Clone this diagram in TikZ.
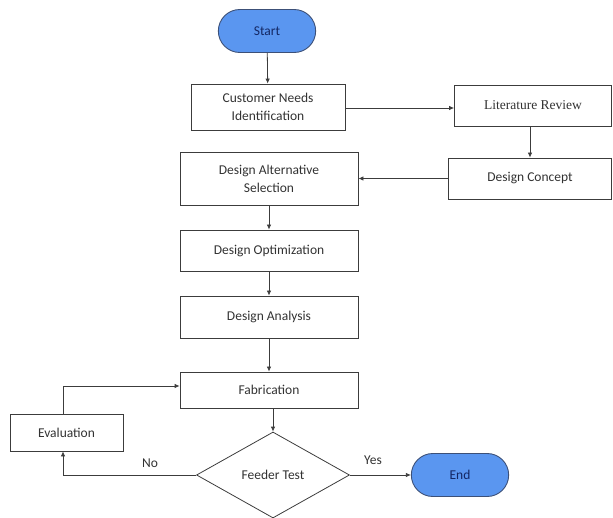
\documentclass[tikz,border=0pt]{standalone}
\usepackage{fontspec}
\setmainfont{Carlito}
\newfontfamily\serifz{Liberation Serif}
\usetikzlibrary{shapes.geometric,shapes.misc,arrows.meta}
\definecolor{termfill}{RGB}{90,150,240}
\definecolor{termdraw}{RGB}{60,80,120}
\definecolor{termtext}{RGB}{20,40,100}
\definecolor{linec}{RGB}{60,60,60}
\definecolor{textc}{RGB}{50,50,50}
\tikzset{
  box/.style={draw=linec, line width=0.8pt, rectangle, align=center, text=textc, font=\fontsize{13.5}{18}\selectfont, inner sep=2pt},
  term/.style={draw=termdraw, fill=termfill, line width=0.9pt, rounded rectangle, text=termtext, font=\fontsize{13.5}{16}\selectfont, minimum width=104pt, minimum height=43pt},
  dec/.style={draw=linec, line width=0.8pt, diamond, aspect=1.78, text=textc, font=\fontsize{13.5}{16}\selectfont, inner sep=0pt, minimum width=153pt, minimum height=86pt},
  conn/.style={draw=linec, line width=0.8pt, -{Latex[length=5pt,width=4.5pt]}},
  lbl/.style={text=textc, font=\fontsize{13.5}{16}\selectfont}
}
\begin{document}
\begin{tikzpicture}[x=1pt,y=-1pt]
\useasboundingbox (0,0) rectangle (613,518);
\node[term] (start) at (267,31) {Start};
\node[box, minimum width=154pt, minimum height=46pt] (cust) at (268,107) {Customer Needs\\Identification};
\node[box, minimum width=157pt, minimum height=41pt, font=\serifz\fontsize{13.5}{16}\selectfont] (lit) at (533,105.5) {Literature Review};
\node[box, minimum width=163pt, minimum height=41pt] (concept) at (530,178.5) {Design Concept};
\node[box, minimum width=178pt, minimum height=53pt] (alt) at (269,178.5) {Design Alternative\\Selection};
\node[box, minimum width=178pt, minimum height=41pt] (opt) at (269,250.5) {Design Optimization};
\node[box, minimum width=178pt, minimum height=42pt] (ana) at (269,317) {Design Analysis};
\node[box, minimum width=178pt, minimum height=36pt] (fab) at (269,390) {Fabrication};
\node[dec] (test) at (273,475) {Feeder Test};
\node[box, minimum width=113pt, minimum height=37pt] (eval) at (66.5,432.5) {Evaluation};
\node[term] (end) at (460,475) {End};
\coordinate (c1) at (63,386);
\coordinate (c2) at (63,475);
\draw[conn] (start) -- (cust);
\draw[conn] (cust.east |- 0,108) -- (lit.west |- 0,108);
\draw[conn] (lit.south -| 530,0) -- (concept.north -| 530,0);
\draw[conn] (concept) -- (alt);
\draw[conn] (alt) -- (opt);
\draw[conn] (opt) -- (ana);
\draw[conn] (ana) -- (fab);
\draw[conn] (fab.south -| test) -- (test.north);
\draw[conn] (test.west) -- (c2) -- (eval.south -| c2);
\draw[conn] (eval.north -| c1) -- (c1) -- (fab.west |- c1);
\draw[conn] (test.east) -- (end.west);
\node[lbl] (no) at (150,463) {No};
\node[lbl] (yes) at (373,460) {Yes};
\end{tikzpicture}
\end{document}
